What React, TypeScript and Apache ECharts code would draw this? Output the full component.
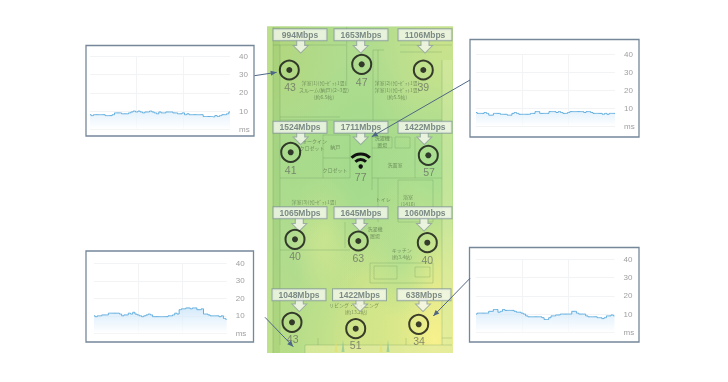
import React, { useEffect, useRef } from "react";
import * as echarts from "echarts";

const latencyTopLeft = [8,7.5,8,8,8,8,8,7.5,7.5,7.5,8,9,9,9,8.5,8.5,8.5,9,9.5,10,9.5,10,9.5,9,9.5,9.5,10,9.5,9,8.5,9.5,9,9,9.5,9.5,9.5,9,9,8.5,8.5,9,8,8.5,8,8,8,8,8,8,7,7,7,7,6.8,7.5,7,7.5,8,8,8.5,9.5];
const latencyTopRight = [7.5,7,7,7,7.5,7,6,6,7,7,7,6.5,6.5,6.5,6,6,7,7.5,7,6.5,6.5,6.5,6.5,6.5,7,7,8,8,7,7,7,7,8,8,8,7.5,8,7.5,7,7,7.5,8,8,8,8,8,8,7.5,8,8,7.5,7,7,7,7,6.5,7,6.5,7,7,7];
const latencyBottomLeft = [10,9.5,10,10,10.5,10.5,10.5,11.5,11.5,11.5,11.5,11.5,11,10,10.5,10.5,11.5,11,12,11,10.5,10,9.5,10,10.5,11,10.5,9.5,9.5,9.5,9.5,9.5,9.5,9.5,10,10,10.5,11.5,11,13.5,14,14,14.5,14.5,14,14.5,14.5,13.5,13.5,14,11,11,10.5,10,10,10,10,9.5,10,8.5,8];
const latencyBottomRight = [10,10.5,10.5,10.5,10.5,10.5,11.5,11.5,12.5,12.5,11,11.5,12.5,12,12,12,12,11.5,11,11,10.5,10,9,8.5,8.5,8.5,8.5,8.5,8.5,8,7,7,8,9,9,9.5,9.5,10,10,10,10,10,11.5,11.5,10.5,10,10,10,9,8.5,8.5,8.5,8.5,8,8,7.5,8,9,9,9.5,9];

const speedLabels = ["994Mbps","1653Mbps","1106Mbps","1524Mbps","1711Mbps","1422Mbps","1065Mbps","1645Mbps","1060Mbps","1048Mbps","1422Mbps","638Mbps"];
const labelX = [300,361,425,300,361,425,300,361,425,299,359.5,424];
const labelY = [34.7,34.7,34.7,127.3,127.3,127.3,212.7,212.7,212.7,294.7,294.7,294.7];
const pointerX = [300.7,360.7,425,300.7,360.7,424.3,299.3,360,424,299.3,360,423];
const pointerY = [46.5,46.5,46.5,138,138,138,224.5,224.5,224.5,305,305,305];
const nodeX = [289.3,361.7,423.3,290.7,428.3,295,358.3,427.3,292,355.7,418.7];
const nodeY = [70,64.3,70,152.3,155.3,239.3,241,242.7,322.3,328.7,324.3];
const rssiValues = [43,47,39,41,77,57,40,63,40,43,51,34];
const rssiX = [290,361.7,423.3,290.7,360.7,429,295,358.3,427.3,292.7,355.7,419];
const rssiY = [86.7,81.7,86.7,169.7,176.7,172.3,256,258,260,339,345,341.3];
const yTicks = [0,10,20,30,40];

const panels = [
  { data: latencyTopLeft, box: [86,45.5,168,90.5], grid: [90,56.3,140,73], top: "#d8ecfb" },
  { data: latencyTopRight, box: [470,39.5,169,97.5], grid: [476,54,139,72], top: "#d8ecfb" },
  { data: latencyBottomLeft, box: [86,251,167.5,91], grid: [94,263.3,132.7,70], top: "#c4e2f8" },
  { data: latencyBottomRight, box: [469.5,247.5,169.5,94.5], grid: [476,259.3,138.5,73], top: "#cbe5f9" },
];

const planTexts: [string, number, number][] = [
  ["洋室(1)(ｸﾛｰｾﾞｯﾄ1畳)\nスルーム(納戸)(2~3畳)\n(約6.5帖)",324,89],
  ["洋室(2)(ｸﾛｰｾﾞｯﾄ1畳)\n洋室(1)(ｸﾛｰｾﾞｯﾄ1畳)\n(約5.5帖)",397,89],
  ["ウォークイン\nクロゼット",312,144],["納戸",335.3,146],["クロゼット",335,169.3],
  ["洗濯機\n置場",382.3,141],["洗面室",395,164],
  ["洋室(3)(ｸﾛｰｾﾞｯﾄ1畳)",314,201],["トイレ",383.3,198],["浴室\n(1416)",408,200],
  ["洗濯機\n置場",375,232],["キッチン",401.7,249],["(約3.4帖)",401.7,256.7],
  ["リビング・ダイニング",354,304],["(約13.2帖)",356,311],
];

const planLines: number[][][] = [
  [[273,27],[273,353]],[[280,45],[280,345]],[[442,60],[442,345]],[[273,45],[346,45]],
  [[346.7,27],[346.7,86]],[[373,50],[373,120]],[[378,50],[378,86]],[[373,50],[384,50]],
  [[400,45],[452,45]],[[400,52],[442,52]],[[280,120],[442,120]],[[280,117],[340,117]],
  [[323,135],[323,178]],[[350,135],[350,178]],[[323,135],[350,135]],[[323,158],[350,158]],
  [[280,178],[350,178]],[[372,137],[372,190]],[[372,137],[392,137]],[[392,137],[392,148]],[[372,148],[392,148]],
  [[395,137],[410,137]],[[395,137],[395,148]],[[410,137],[410,148]],[[395,148],[410,148]],[[415,137],[415,178]],
  [[372,178],[442,178]],[[378,178],[378,222]],[[398,180],[398,222]],[[398,180],[433,180]],[[433,180],[433,222]],[[398,222],[433,222]],
  [[280,250],[350,250]],[[345,222],[345,248]],[[370,263],[433,263]],[[370,263],[370,283]],[[433,263],[433,283]],[[370,283],[433,283]],
  [[374,266],[397,266],[397,279],[374,279],[374,266]],[[415,267],[430,267],[430,277],[415,277],[415,267]],
  [[305,345],[452,345]],[[305,345],[305,353]],[[318,338],[318,345]],[[406,338],[406,345]],[[442,338],[452,338]],
];

const blobs: [number, number, number, string][] = [
  [0.9,0.96,0.55,"rgba(248,241,140,1)"],[0.5,0.98,0.4,"rgba(214,230,135,0.85)"],
  [0.02,0.97,0.3,"rgba(190,222,130,0.7)"],[0.32,0.64,0.2,"rgba(212,232,145,0.85)"],
  [0.07,0.05,0.32,"rgba(178,214,125,0.9)"],[0.95,0.04,0.4,"rgba(205,228,140,0.9)"],
  [0.5,0.42,0.35,"rgba(160,218,140,0.85)"],[0.9,0.45,0.28,"rgba(165,222,145,0.8)"],
  [0.15,0.42,0.25,"rgba(165,218,140,0.7)"],[0.72,0.7,0.2,"rgba(165,220,145,0.7)"],
];

const pointerPath = "path://M3.5,0 H11.5 V5.5 H15 L7.5,13 L0,5.5 H3.5 Z";
const leaders: number[][] = [
  [254.5,75.7,276.7,72.3],[470,80,371.7,136.7],[265,317.3,293.3,346.7],[470,278.3,433.3,316],
];
const leaderColor = "#4f6786";

function head(x1: number, y1: number, x2: number, y2: number) {
  const a = Math.atan2(y2 - y1, x2 - x1);
  const len = 6, wing = 2.6;
  const bx = x2 - len * Math.cos(a), by = y2 - len * Math.sin(a);
  return [[x2, y2],[bx - wing * Math.sin(a), by + wing * Math.cos(a)],[bx + wing * Math.sin(a), by - wing * Math.cos(a)]];
}

export default function App() {
  const ref = useRef<HTMLDivElement>(null);
  useEffect(() => {
    const chart = echarts.init(ref.current!, null, { renderer: "svg" });
    const plan = { x: 267, y: 26.5, width: 186, height: 326.5 };
    const floorGrid = panels.length;
    const graphic: any[] = [
      { type: "rect", z: -10, shape: plan, style: { fill: "#b0dc8e" }, silent: true },
      ...blobs.map(([x, y, r, c]) => ({
        type: "rect", z: -9, shape: plan, silent: true,
        style: { fill: { type: "radial", x, y, r, colorStops: [{ offset: 0, color: c }, { offset: 1, color: c.replace(/[\d.]+\)$/, "0)") }] } },
      })),
      { type: "rect", z: -8, shape: { x: 267, y: 27, width: 6, height: 326 }, style: { fill: "rgba(195,228,145,0.6)" }, silent: true },
      { type: "rect", z: -8, shape: { x: 273, y: 27, width: 7, height: 326 }, style: { fill: "rgba(150,195,105,0.3)" }, silent: true },
      { type: "rect", z: -8, shape: { x: 442, y: 60, width: 10, height: 285 }, style: { fill: "rgba(215,235,165,0.5)" }, silent: true },
      { type: "rect", z: -8, shape: { x: 305, y: 345, width: 148, height: 8 }, style: { fill: "rgba(225,235,160,0.7)" }, silent: true },
      ...planLines.map((points) => ({ type: "polyline", z: -7, silent: true, shape: { points }, style: { stroke: "rgba(90,135,80,0.32)", lineWidth: 0.8, fill: "none" } })),
      ...planTexts.map(([text, x, y]) => ({ type: "text", z: -6, silent: true, x, y, style: { text, font: '5px "Noto Sans CJK JP"', lineHeight: 7, fill: "rgba(70,95,60,0.6)", align: "center", verticalAlign: "middle" } })),
      ...[336,343,381,388].map((x, i) => ({ type: "polygon", z: -6, silent: true, shape: { points: [[x,340],[x - 1.5,352],[x + 1.5,352]] }, style: { fill: i % 2 ? "rgba(120,190,150,0.6)" : "rgba(225,225,110,0.7)" } })),
      ...panels.map((p) => ({ type: "rect", z: -5, silent: true, shape: { x: p.box[0], y: p.box[1], width: p.box[2], height: p.box[3] }, style: { fill: "#fff", stroke: "#76879a", lineWidth: 1.3 } })),
      { type: "arc", z: 6, silent: true, shape: { cx: 360.7, cy: 167, r: 13, startAngle: (5 * Math.PI) / 4, endAngle: (7 * Math.PI) / 4 }, style: { stroke: "#111", lineWidth: 3, fill: "none" } },
      { type: "arc", z: 6, silent: true, shape: { cx: 360.7, cy: 167, r: 7.5, startAngle: (5 * Math.PI) / 4, endAngle: (7 * Math.PI) / 4 }, style: { stroke: "#111", lineWidth: 3, fill: "none" } },
      { type: "circle", z: 6, silent: true, shape: { cx: 360.7, cy: 166.5, r: 2.2 }, style: { fill: "#111" } },
      ...leaders.flatMap(([x1, y1, x2, y2]) => [
        { type: "line", z: 20, silent: true, shape: { x1, y1, x2, y2 }, style: { stroke: leaderColor, lineWidth: 1 } },
        { type: "polygon", z: 20, silent: true, shape: { points: head(x1, y1, x2, y2) }, style: { fill: leaderColor } },
      ]),
    ];
    const grids = panels.map((p) => ({ left: p.grid[0], top: p.grid[1], width: p.grid[2], height: p.grid[3], containLabel: false }));
    const xAxes = panels.map((_, i) => ({
      type: "value", gridIndex: i, min: 0, max: 60, interval: 20,
      axisLine: { show: false }, axisTick: { show: false }, axisLabel: { show: false },
      splitLine: { show: true, showMinLine: false, showMaxLine: false, lineStyle: { color: "#f2f3f4", width: 1 } },
    }));
    const yAxes = panels.map((_, i) => ({
      type: "value", gridIndex: i, position: "right", min: yTicks[0], max: yTicks[yTicks.length - 1], interval: 10,
      axisLine: { show: false }, axisTick: { show: false },
      axisLabel: { show: true, margin: 9, fontSize: 8, color: "#9f9f9f", fontFamily: "Liberation Sans", formatter: (v: number) => (v === 0 ? "ms" : String(v)) },
      splitLine: { show: true, lineStyle: { color: "#f2f3f4", width: 1 } },
    }));
    const floorPoints = (xs: number[], ys: number[]) => xs.map((x, i) => [x, ys[i]]);
    const option: any = {
      animation: false,
      backgroundColor: "#fff",
      graphic: { elements: graphic },
      grid: [...grids, { left: 0, top: 0, width: 728, height: 382 }],
      xAxis: [...xAxes, { type: "value", gridIndex: floorGrid, min: 0, max: 728, show: false }],
      yAxis: [...yAxes, { type: "value", gridIndex: floorGrid, min: 0, max: 382, inverse: true, show: false }],
      series: [
        ...panels.map((p, i) => ({
          type: "line", xAxisIndex: i, yAxisIndex: i, silent: true, showSymbol: false, step: "middle",
          data: p.data.map((v, k) => [k, v]),
          lineStyle: { color: "#62aede", width: 1 },
          areaStyle: { color: { type: "linear", x: 0, y: 0, x2: 0, y2: 1, colorStops: [{ offset: 0, color: p.top }, { offset: 1, color: "#ffffff" }] } },
        })),
        { type: "scatter", name: "pointer", xAxisIndex: floorGrid, yAxisIndex: floorGrid, silent: true, z: 3, symbol: pointerPath, symbolSize: [15, 13], data: floorPoints(pointerX, pointerY), itemStyle: { color: "#f6f8f0", borderColor: "#8f9f9c", borderWidth: 1 } },
        { type: "scatter", name: "speed", xAxisIndex: floorGrid, yAxisIndex: floorGrid, silent: true, z: 4, symbolSize: 1, itemStyle: { color: "transparent" },
          data: labelX.map((x, i) => ({ value: [x, labelY[i]], name: speedLabels[i] })),
          label: { show: true, position: "inside", formatter: "{b}", fontFamily: "Liberation Sans", fontSize: 8.5, fontWeight: "bold", color: "#5f6f70", align: "center", verticalAlign: "middle", width: 53, height: 11, lineHeight: 11, backgroundColor: "#f4f7ee", borderColor: "#84999a", borderWidth: 1 } },
        { type: "scatter", name: "ring", xAxisIndex: floorGrid, yAxisIndex: floorGrid, silent: true, z: 5, symbolSize: 19, data: floorPoints(nodeX, nodeY), itemStyle: { color: "transparent", borderColor: "#111", borderWidth: 2 } },
        { type: "scatter", name: "dot", xAxisIndex: floorGrid, yAxisIndex: floorGrid, silent: true, z: 6, symbolSize: 6, data: floorPoints(nodeX, nodeY), itemStyle: { color: "#111" } },
        { type: "scatter", name: "rssi", xAxisIndex: floorGrid, yAxisIndex: floorGrid, silent: true, z: 6, symbolSize: 1, itemStyle: { color: "transparent" },
          data: rssiX.map((x, i) => ({ value: [x, rssiY[i]], name: String(rssiValues[i]) })),
          label: { show: true, position: "inside", formatter: "{b}", fontFamily: "Liberation Sans", fontSize: 10.5, color: "#6a7064", align: "center", verticalAlign: "middle" } },
      ],
    };
    chart.setOption(option);
    return () => chart.dispose();
  }, []);
  return <div ref={ref} style={{ position: "absolute", left: 0, top: 0, width: 728, height: 382, filter: "blur(0.3px)" }} />;
}
